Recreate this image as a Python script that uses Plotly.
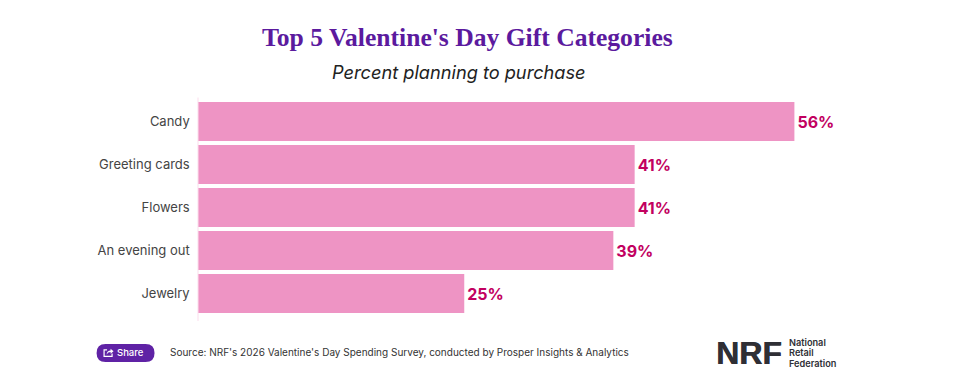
import plotly.graph_objects as go

categories = ["Candy", "Greeting cards", "Flowers", "An evening out", "Jewelry"]
values = [56, 41, 41, 39, 25]
labels = ["56%", "41%", "41%", "39%", "25%"]
title = "Top 5 Valentine's Day Gift Categories"
subtitle = "Percent planning to purchase"
source = "Source: NRF's 2026 Valentine's Day Spending Survey, conducted by Prosper Insights & Analytics"

W, H = 960, 385
L, R, T, B = 197.5, 123, 99.5, 70
PW, PH = W - L - R, H - T - B
BODY = "Inter, sans-serif"


def fx(x):
    return (x - L) / PW


def fy(y):
    return (H - y - B) / PH


def path(*cmds):
    out = []
    for c in cmds:
        op, pts = c[0], c[1:]
        out.append(op + " " + " ".join(f"{fx(pts[i])} {fy(pts[i + 1])}" for i in range(0, len(pts), 2)))
    return " ".join(out)


fig = go.Figure(
    go.Bar(
        x=values,
        y=categories,
        orientation="h",
        marker=dict(color="#EE94C4", line=dict(width=0)),
        text=labels,
        textposition="outside",
        cliponaxis=False,
        textfont=dict(family=BODY, size=16, color="#C2005F", weight=700),
        width=0.905,
        hoverinfo="skip",
    )
)

DARK = "#2F2F35"
notes = [
    dict(x=467, y=37, text=f"<b>{title}</b>", font=dict(family="Liberation Serif, serif", size=25.6, color="#5B1A9E")),
    dict(x=459, y=71, text=f"<i>{subtitle}</i>", font=dict(family=BODY, size=18.2, color="#222222")),
    dict(x=167.5, y=352, text=source, xanchor="left", font=dict(family=BODY, size=10, color="#333333")),
    dict(x=129.5, y=353, text="Share", font=dict(family=BODY, size=9.5, color="#FFFFFF", weight=500)),
    dict(x=713.5, y=353, text="<b>NRF</b>", xanchor="left", font=dict(family="Liberation Sans, sans-serif", size=32, color=DARK, shadow="0.6px 0 0 #2F2F35")),
    dict(x=787, y=342.5, text="National", xanchor="left", font=dict(family=BODY, size=9.2, color=DARK, weight=600)),
    dict(x=787, y=353, text="Retail", xanchor="left", font=dict(family=BODY, size=9.2, color=DARK, weight=600)),
    dict(x=787, y=363.5, text="Federation", xanchor="left", font=dict(family=BODY, size=9.2, color=DARK, weight=600)),
]
annotations = []
for n in notes:
    annotations.append(
        dict(
            xref="paper", yref="paper", yanchor="middle",
            xanchor=n.get("xanchor", "center"), showarrow=False,
            x=fx(n["x"]), y=fy(n["y"]), text=n["text"], font=n["font"],
        )
    )

button = dict(
    type="path", xref="paper", yref="paper",
    path=path(
        ("M", 105, 344), ("L", 145, 344), ("Q", 154, 344, 154, 353), ("Q", 154, 362, 145, 362),
        ("L", 105, 362), ("Q", 96, 362, 96, 353), ("Q", 96, 344, 105, 344),
    ) + " Z",
    fillcolor="#5F22A5", line=dict(width=0),
)
icon_box = dict(
    type="path", xref="paper", yref="paper",
    path=path(("M", 106.5, 350), ("L", 103.5, 350), ("L", 103.5, 356.5), ("L", 111.5, 356.5), ("L", 111.5, 353.5)),
    line=dict(color="#FFFFFF", width=1.2),
)
icon_arrow = dict(
    type="path", xref="paper", yref="paper",
    path=path(("M", 106, 354.5), ("Q", 106.5, 350.5, 110, 350.5), ("L", 110, 348.8), ("L", 113, 351.3),
              ("L", 110, 353.8), ("L", 110, 352.2), ("Q", 107.5, 352.2, 106, 354.5)) + " Z",
    fillcolor="#FFFFFF", line=dict(width=0),
)
axis_line = dict(
    type="line", xref="paper", yref="paper", x0=0, x1=0, y0=fy(321), y1=fy(97),
    line=dict(color="#FBDDEC", width=1),
)

fig.update_layout(
    width=W,
    height=H,
    margin=dict(l=L, r=R, t=T, b=B, pad=0),
    paper_bgcolor="#FFFFFF",
    plot_bgcolor="#FFFFFF",
    showlegend=False,
    annotations=annotations,
    shapes=[button, icon_box, icon_arrow, axis_line],
    xaxis=dict(range=[0, 60], visible=False, fixedrange=True),
    yaxis=dict(
        autorange="reversed",
        showgrid=False,
        showline=False,
        ticks="",
        ticksuffix="  ",
        tickfont=dict(family=BODY, size=13, color="#444444"),
        fixedrange=True,
    ),
)

fig.write_html("out.html", config=dict(displayModeBar=False), post_script="document.body.style.margin='0';")
